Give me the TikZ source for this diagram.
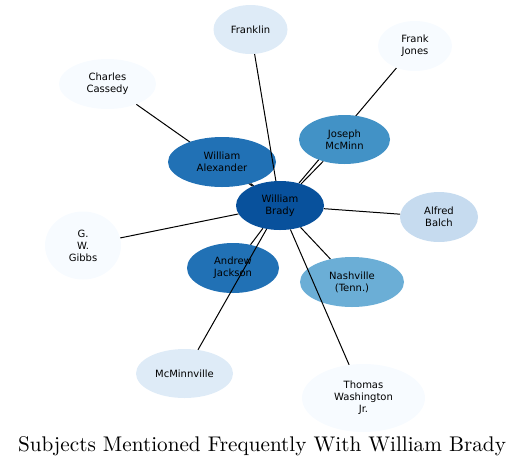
\documentclass[tikz,border=0pt]{standalone}
\usepackage{fontspec}
\setsansfont{DejaVu Sans}
\newfontfamily\titlefont{lmroman10-regular.otf}
\usepackage{tikz}
\usetikzlibrary{shapes.geometric}
\definecolor{blues1}{HTML}{F7FBFF}
\definecolor{blues2}{HTML}{DEEBF7}
\definecolor{blues3}{HTML}{C6DBEF}
\definecolor{blues5}{HTML}{6BAED6}
\definecolor{blues6}{HTML}{4292C6}
\definecolor{blues7}{HTML}{2171B5}
\definecolor{blues8}{HTML}{08519C}
\pgfdeclarelayer{background}
\pgfsetlayers{background,main}

\begin{document}
\begin{tikzpicture}[x=1pt, y=-1pt]
	\tikzstyle{subject} = [ellipse, draw=none, inner sep=0pt, align=center, text=black, font=\sffamily\fontsize{10}{12}\selectfont]
	\tikzstyle{link} = [line width=1pt, black]
	\useasboundingbox (0,0) rectangle (525,467);
	\path
	  node[subject, fill=blues8, minimum width=88pt, minimum height=49pt] (WB) at (280,205.5) {William\\Brady}
	  node[subject, fill=blues7, minimum width=108pt, minimum height=50pt] (WA) at (222,162) {William\\Alexander}
	  node[subject, fill=blues7, minimum width=92pt, minimum height=50pt] (AJ) at (233,268) {Andrew\\Jackson}
	  node[subject, fill=blues6, minimum width=91pt, minimum height=49pt] (JM) at (344.5,139.5) {Joseph\\McMinn}
	  node[subject, fill=blues5, minimum width=104pt, minimum height=50pt] (NT) at (352,282) {Nashville\\(Tenn.)}
	  node[subject, fill=blues3, minimum width=78pt, minimum height=50pt] (AB) at (439,217) {Alfred\\Balch}
	  node[subject, fill=blues2, minimum width=74pt, minimum height=49pt] (FR) at (250.5,29.5) {Franklin}
	  node[subject, fill=blues2, minimum width=97pt, minimum height=49pt] (MV) at (184.5,373.5) {McMinnville}
	  node[subject, fill=blues1, minimum width=74pt, minimum height=50pt] (FJ) at (415,46) {Frank\\Jones}
	  node[subject, fill=blues1, minimum width=97pt, minimum height=50pt] (CC) at (107.5,84) {Charles\\Cassedy}
	  node[subject, fill=blues1, minimum width=76pt, minimum height=68pt] (GW) at (83,245.5) {G.\\W.\\Gibbs}
	  node[subject, fill=blues1, minimum width=123pt, minimum height=68pt] (TW) at (363.5,398) {Thomas\\Washington\\Jr.}
	  node[font=\titlefont\fontsize{21.2}{24}\selectfont, text=black] (title) at (262,446) {Subjects Mentioned Frequently With William Brady}
	;
	% these two run under the nodes they cross
	\begin{pgfonlayer}{background}
	  \path[link]
	  (WB) edge (CC)
	  (WB) edge (FJ)
	  ;
	\end{pgfonlayer}
	\path[link]
	  (WB) edge (WA)
	  (WB) edge (AJ)
	  (WB) edge (JM)
	  (WB) edge (NT)
	  (WB) edge (AB)
	  (WB) edge (FR)
	  (WB) edge (MV)
	  (WB) edge (GW)
	  (WB) edge (TW)
	;
\end{tikzpicture}
\end{document}
